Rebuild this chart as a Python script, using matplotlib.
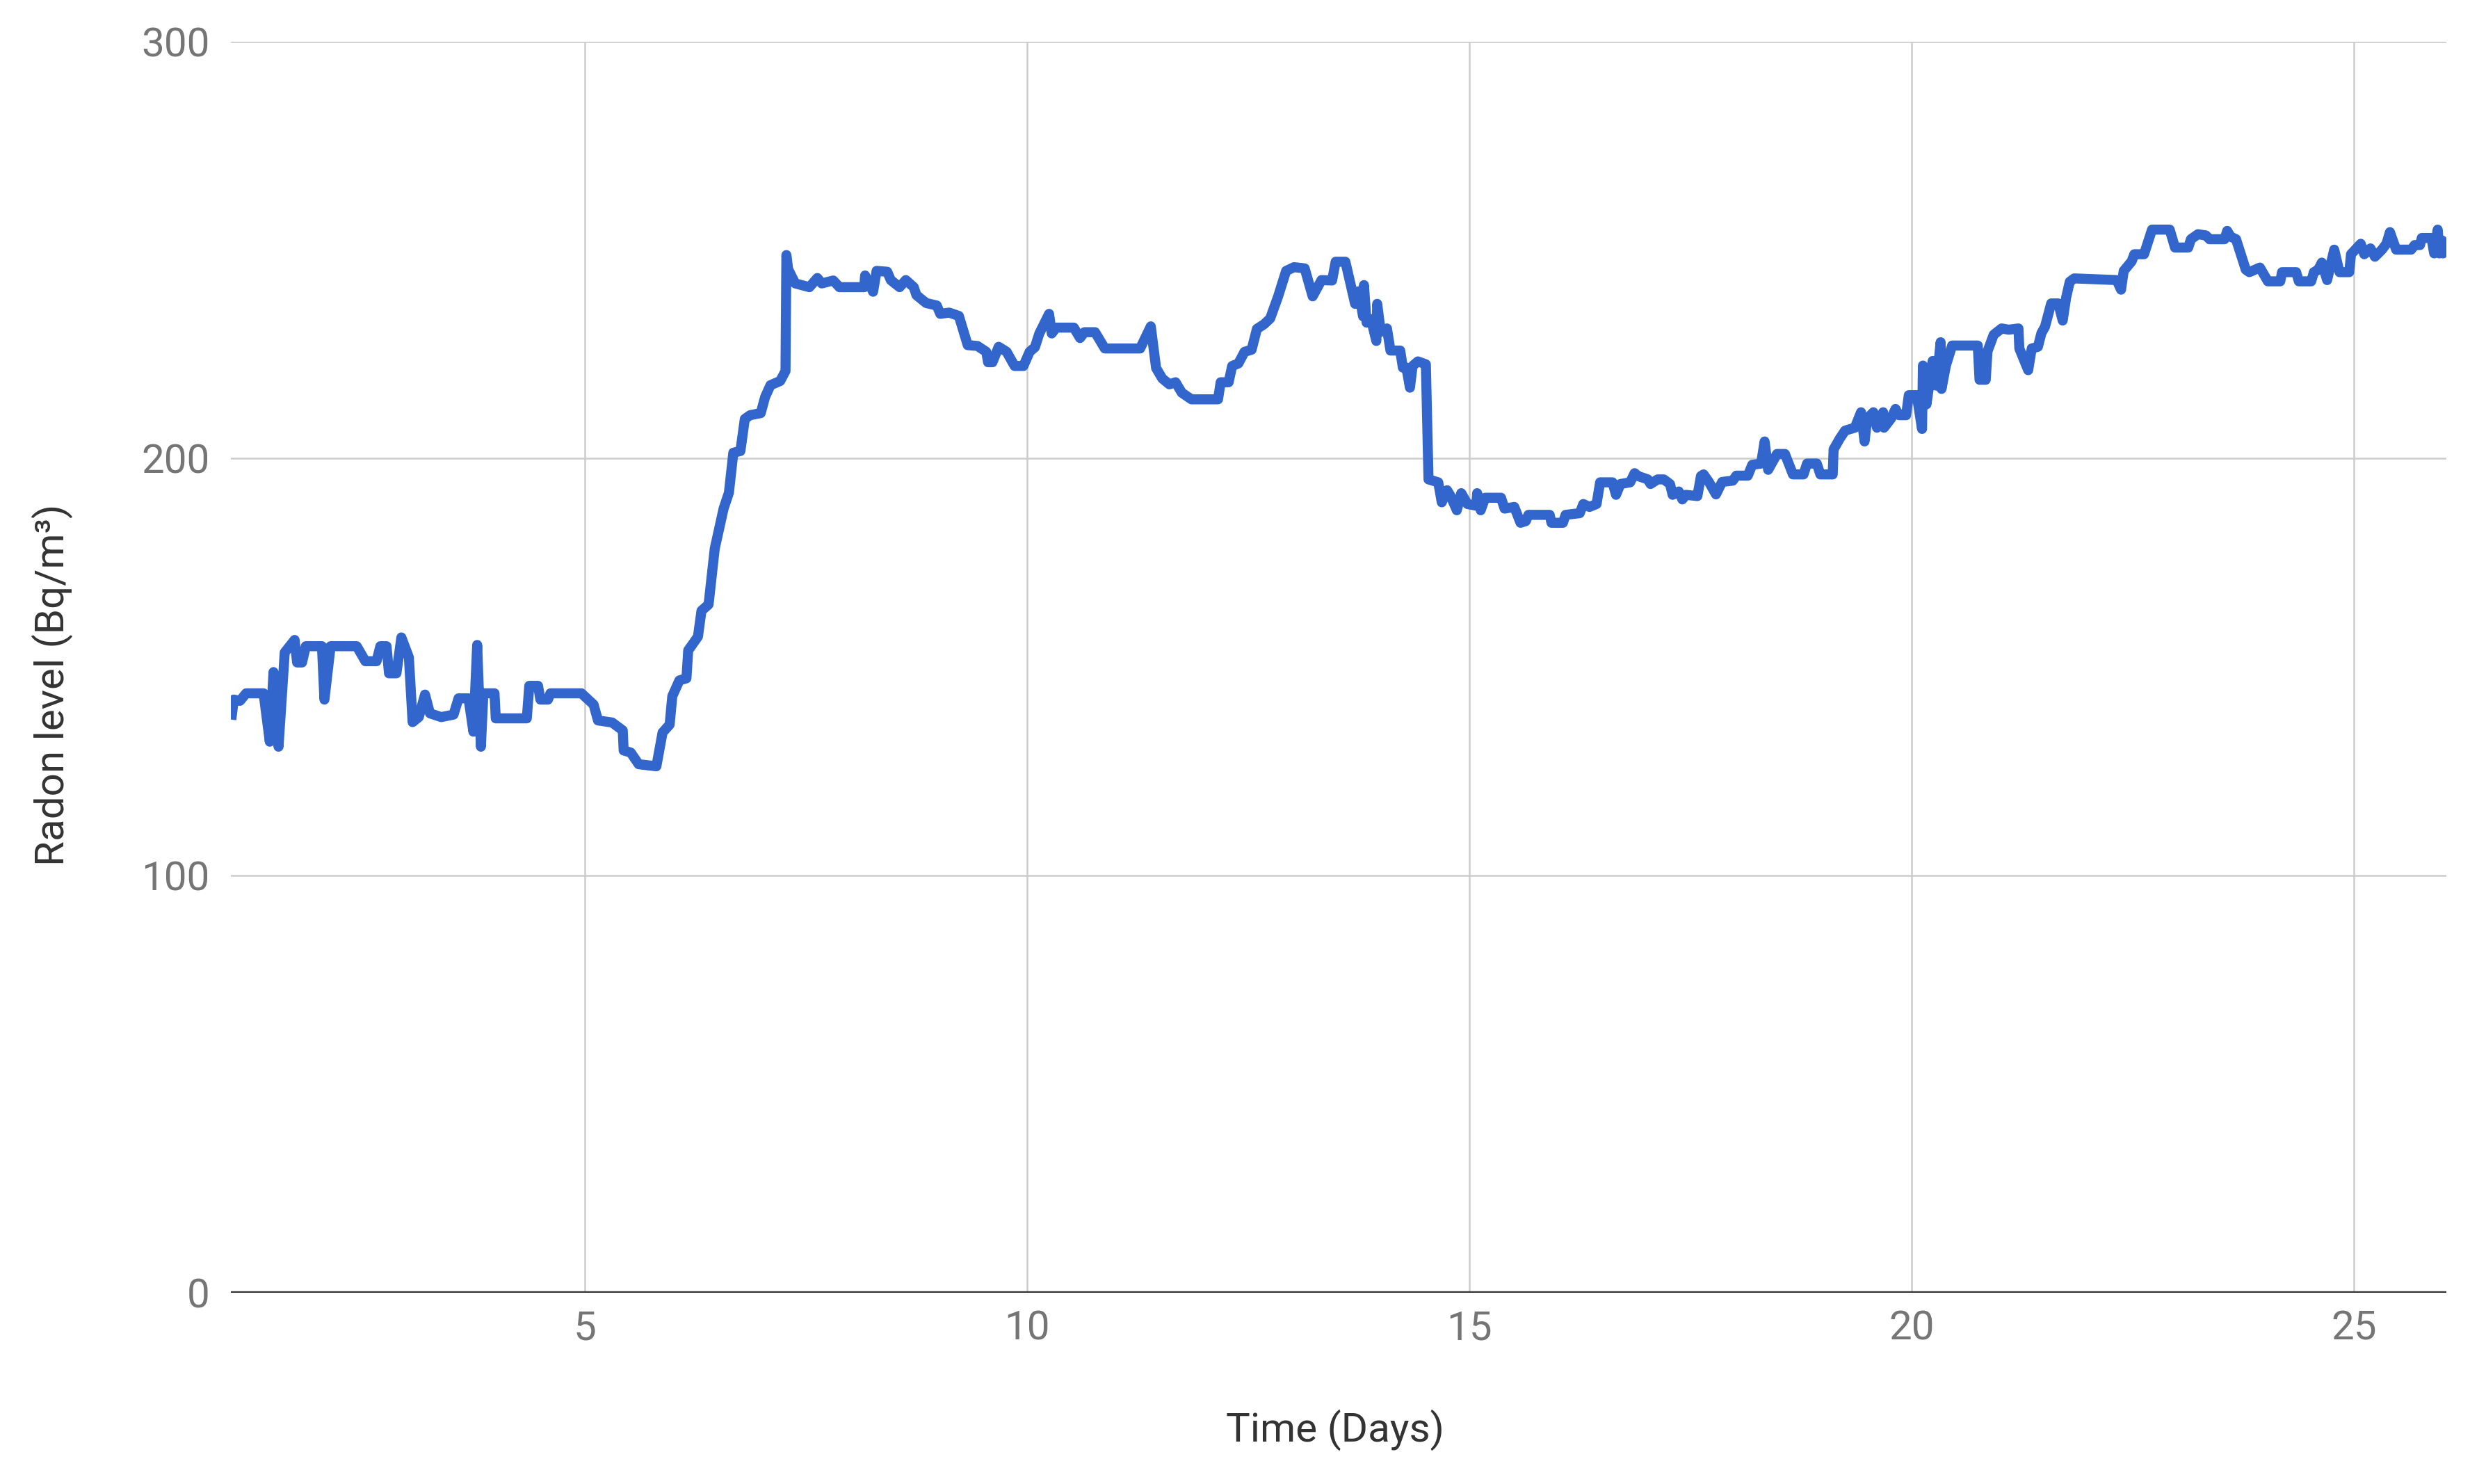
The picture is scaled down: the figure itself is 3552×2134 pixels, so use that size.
import matplotlib.pyplot as plt

plt.rcParams['font.family'] = ['Roboto', 'DejaVu Sans']

# radon readings (time in days, level in Bq/m3)
days = [1.004, 1.032, 1.102, 1.172, 1.369, 1.439, 1.481, 1.538, 1.608, 1.720,
        1.748, 1.804, 1.846, 2.029, 2.057, 2.127, 2.422, 2.520, 2.646, 2.689,
        2.759, 2.787, 2.871, 2.927, 3.012, 3.054, 3.124, 3.194, 3.250, 3.377,
        3.517, 3.573, 3.686, 3.741, 3.784, 3.826, 3.854, 3.980, 3.994, 4.345,
        4.373, 4.472, 4.499, 4.584, 4.612, 4.963,
        5.10, 5.15, 5.31, 5.43, 5.44, 5.52, 5.61, 5.81, 5.88, 5.96,
        5.99, 6.07, 6.15, 6.17, 6.28, 6.32, 6.40, 6.47, 6.57, 6.63,
        6.68, 6.76, 6.81, 6.87, 6.99, 7.04, 7.10, 7.21, 7.27, 7.28,
        7.30, 7.38, 7.54, 7.63, 7.68, 7.81, 7.88,
        8.16, 8.17, 8.26, 8.30, 8.42, 8.46, 8.56, 8.63, 8.72, 8.75,
        8.86, 8.98, 9.02, 9.12, 9.23, 9.33, 9.44, 9.54, 9.56, 9.61,
        9.68, 9.77, 9.86, 9.96, 10.03, 10.09, 10.14, 10.25, 10.28, 10.33,
        10.53, 10.60, 10.65, 10.77, 10.88, 11.28, 11.35, 11.40, 11.46, 11.53,
        11.61, 11.68, 11.75, 11.86, 12.16, 12.19, 12.28, 12.32, 12.39, 12.46,
        12.54, 12.60, 12.68, 12.75, 12.84, 12.93, 13.02, 13.14, 13.23, 13.33,
        13.45, 13.49, 13.60, 13.71, 13.75, 13.80, 13.81, 13.84, 13.89, 13.95,
        13.96, 14.00, 14.07, 14.11, 14.22, 14.25, 14.29, 14.33, 14.36, 14.42,
        14.51, 14.54, 14.65, 14.69, 14.75, 14.79, 14.86, 14.91, 14.98, 15.08,
        15.09, 15.13, 15.18, 15.36, 15.40, 15.51, 15.58, 15.64, 15.67, 15.91,
        15.93, 16.06, 16.09, 16.25, 16.29, 16.36, 16.44, 16.48, 16.62, 16.66,
        16.71, 16.82, 16.87, 16.91, 17.02, 17.05, 17.13, 17.20, 17.27, 17.30,
        17.37, 17.41, 17.45, 17.58, 17.62,
        17.65, 17.71, 17.79, 17.86, 17.98, 18.02, 18.15, 18.20, 18.30, 18.34,
        18.38, 18.48, 18.57, 18.66, 18.78, 18.82, 18.93, 18.97, 19.11, 19.12,
        19.19, 19.25, 19.36, 19.43, 19.47, 19.50, 19.57, 19.61, 19.68, 19.69,
        19.77, 19.82, 19.86, 19.94, 19.97, 20.06, 20.12, 20.13, 20.17, 20.24,
        20.28, 20.33, 20.34, 20.39, 20.46, 20.75, 20.77, 20.84, 20.86, 20.93,
        21.02, 21.10, 21.21, 21.22, 21.32, 21.36, 21.43, 21.47, 21.51, 21.58,
        21.66, 21.71, 21.75, 21.79, 21.84,
        22.32, 22.37, 22.40, 22.49, 22.52, 22.63, 22.72, 22.92, 22.98, 23.13,
        23.16, 23.24, 23.33, 23.37, 23.54, 23.57, 23.61, 23.67, 23.78, 23.82,
        23.94, 24.03, 24.17, 24.19, 24.35, 24.38, 24.52, 24.55, 24.60, 24.64,
        24.70, 24.78, 24.84, 24.95, 24.97, 25.08, 25.12, 25.19, 25.24, 25.32,
        25.37, 25.41, 25.48, 25.65, 25.69, 25.75, 25.77, 25.88, 25.91, 25.95,
        25.97, 26.00, 26.01, 26.02]

radon = [137.4, 142.2, 141.9, 143.7, 143.7, 132.1, 148.8, 130.9, 153.5, 156.5,
         151.1, 151.1, 155.0, 155.0, 142.2, 155.0, 155.0, 151.4, 151.4, 155.0,
         155.0, 148.5, 148.5, 157.1, 152.3, 136.8, 138.0, 143.4, 138.9, 138.0,
         138.6, 142.5, 142.5, 134.5, 155.3, 130.9, 143.7, 143.7, 137.7, 137.7,
         145.5, 145.5, 142.2, 142.2, 143.7, 143.7,
         141.0, 137.2, 136.7, 134.8, 130.0, 129.5, 126.7, 126.2, 134.3, 136.2,
         143.0, 146.8, 147.3, 154.0, 157.3, 163.5, 165.0, 178.4, 188.0, 191.8,
         201.4, 201.8, 209.5, 210.4, 210.9, 214.8, 217.6, 218.6, 221.0, 248.8,
         245.4, 242.0, 241.1, 243.3, 242.0, 242.7, 241.1,
         241.1, 243.9, 240.0, 245.0, 244.8, 242.8, 241.1, 242.8, 241.1, 239.2,
         237.3, 236.7, 234.7, 235.0, 234.2, 227.2, 227.0, 225.6, 223.1, 223.1,
         226.8, 225.6, 222.2, 222.2, 225.6, 226.7, 230.0, 234.7, 230.0, 231.4,
         231.4, 228.9, 230.3, 230.3, 226.4, 226.4, 229.5, 231.7, 221.7, 219.2,
         217.8, 218.3, 215.8, 214.2, 214.2, 218.3, 218.3, 222.2, 222.8, 225.6,
         226.1, 231.1, 232.2, 233.6, 238.9, 245.0, 245.9, 245.6, 238.9, 242.8,
         242.7, 247.2, 247.2, 237.1, 240.1, 234.1, 241.6, 232.6, 233.4, 228.2,
         237.1, 230.4, 231.2, 225.9, 225.9, 221.8, 221.8, 217.0, 222.2, 223.3,
         222.6, 195.0, 194.3, 189.5, 192.4, 191.0, 187.6, 191.7, 189.1, 188.7,
         191.7, 187.6, 190.6, 190.6, 188.0, 188.4, 184.6, 185.0, 186.5, 186.5,
         184.6, 184.6, 186.5, 186.9, 189.1, 188.4, 189.1, 194.3, 194.3, 191.3,
         193.9, 194.3, 196.5, 195.8, 195.0, 193.9, 195.0, 195.0, 193.9, 191.3,
         192.1, 190.2, 191.3, 191.0, 195.8,
         196.2, 194.4, 191.4, 194.4, 194.7, 195.9, 195.9, 198.5, 198.8, 204.1,
         197.3, 201.1, 201.1, 196.2, 196.2, 198.8, 198.8, 196.2, 196.2, 202.2,
         204.8, 206.7, 207.4, 211.1, 204.1, 209.6, 211.1, 207.4, 211.1, 207.4,
         209.6, 211.9, 210.4, 210.4, 215.2, 215.2, 207.1, 222.3, 213.0, 223.4,
         217.5, 227.9, 216.7, 222.3, 227.1, 227.1, 218.9, 218.9, 225.7, 229.7,
         231.2, 230.9, 231.2, 226.4, 221.2, 226.4, 226.8, 230.1, 231.6, 237.2,
         237.2, 233.1, 238.7, 242.4, 243.2,
         242.8, 240.5, 245.0, 247.3, 249.0, 249.0, 254.9, 254.9, 250.6, 250.6,
         252.6, 253.8, 253.5, 252.6, 252.6, 254.6, 253.2, 252.6, 245.3, 244.7,
         245.8, 242.5, 242.5, 244.7, 244.7, 242.5, 242.5, 244.7, 245.3, 247.0,
         242.8, 250.1, 244.7, 244.7, 249.0, 251.5, 249.0, 250.4, 248.4, 250.1,
         251.5, 254.3, 250.1, 250.1, 251.2, 251.2, 252.9, 252.9, 249.2, 254.9,
         249.2, 252.3, 249.2, 251.8]

x_ticks = [5, 10, 15, 20, 25]
y_ticks = [0, 100, 200, 300]

fig = plt.figure(figsize=(17.76, 10.67), dpi=200)
ax = fig.add_axes([0.0935, 0.129, 0.897, 0.843])

ax.plot(days, radon, color='#3366cc', linewidth=5.2, solid_joinstyle='round',
        solid_capstyle='butt')

ax.set_xlim(1.0, 26.05)
ax.set_ylim(0, 300)
ax.set_xticks(x_ticks)
ax.set_yticks(y_ticks)
ax.grid(True, color='#cccccc', linewidth=0.9)
ax.set_axisbelow(True)
for s in ax.spines.values():
    s.set_visible(False)
ax.axhline(0, color='#333333', linewidth=1.6, zorder=1)
ax.tick_params(length=0, labelsize=21, labelcolor='#757575')
ax.tick_params(axis='x', pad=9)
ax.tick_params(axis='y', pad=11)

ax.set_xlabel('Time (Days)', fontsize=21, color='#333333')
ax.set_ylabel('Radon level (Bq/m³)', fontsize=21, color='#333333')
ax.xaxis.set_label_coords(0.4985, -0.110)
ax.yaxis.set_label_coords(-0.0806, 0.486)
ax.xaxis.label.set_va('center')
ax.yaxis.label.set_va('center')

fig.savefig('out.png', dpi=200, facecolor='white')
